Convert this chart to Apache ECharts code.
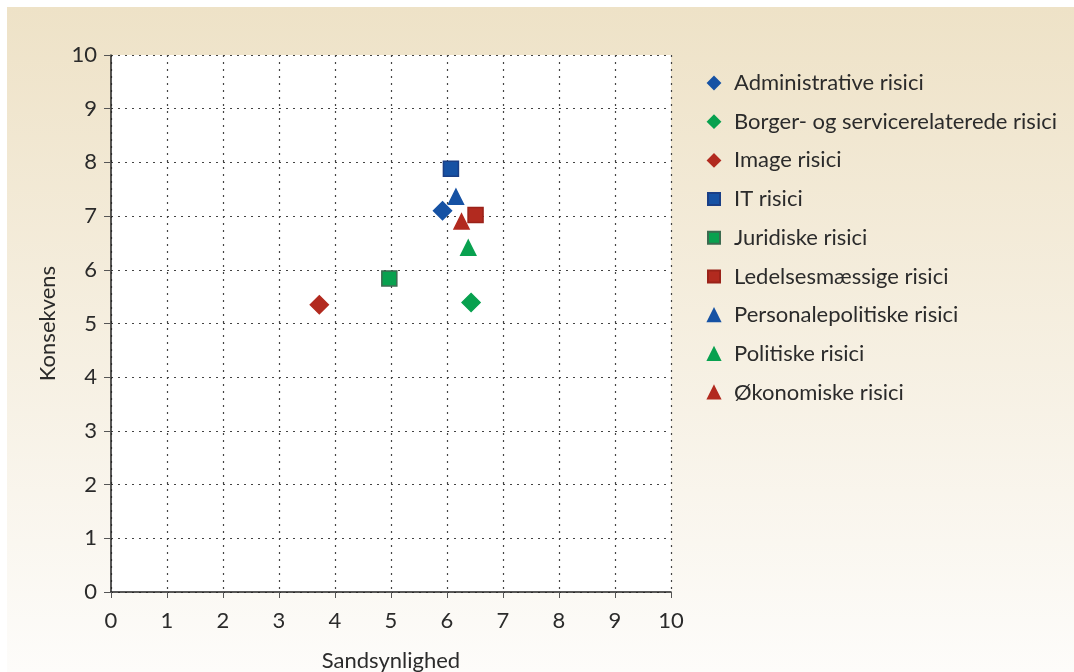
<!DOCTYPE html>
<html>
<head>
<meta charset="utf-8">
<script src="https://cdn.jsdelivr.net/npm/echarts@6/dist/echarts.min.js"></script>
<style>
  html, body { margin: 0; padding: 0; background: #fff; }
  #chart { width: 1074px; height: 672px; }
</style>
</head>
<body>
<div id="chart"></div>
<script>
// 数据
var seriesNames = [
  'Administrative risici',
  'Borger- og servicerelaterede risici',
  'Image risici',
  'IT risici',
  'Juridiske risici',
  'Ledelsesmæssige risici',
  'Personalepolitiske risici',
  'Politiske risici',
  'Økonomiske risici'
]
// [Sandsynlighed, Konsekvens]
var administrative = [[5.92, 7.1]]
var borger = [[6.43, 5.39]]
var image = [[3.72, 5.35]]
var it = [[6.07, 7.88]]
var juridiske = [[4.97, 5.84]]
var ledelse = [[6.51, 7.02]]
var personale = [[6.16, 7.36]]
var politiske = [[6.38, 6.41]]
var oekonomi = [[6.26, 6.9]]
var seriesData = [administrative, borger, image, it, juridiske, ledelse, personale, politiske, oekonomi]
var axisTicks = [0, 1, 2, 3, 4, 5, 6, 7, 8, 9, 10]

;(function () {
  var blue = '#1652a4'
  var green = '#08a14f'
  var red = '#b22a1f'
  var styles = [
    { symbol: 'diamond', size: 18, color: blue, border: blue },
    { symbol: 'diamond', size: 18, color: green, border: green },
    { symbol: 'diamond', size: 18, color: red, border: red },
    { symbol: 'rect', size: 15, color: blue, border: '#1a3f86' },
    { symbol: 'rect', size: 15, color: green, border: '#3d6a50' },
    { symbol: 'rect', size: 15, color: red, border: '#9a2219' },
    { symbol: 'triangle', size: 15, color: blue, border: blue },
    { symbol: 'triangle', size: 15, color: green, border: green },
    { symbol: 'triangle', size: 15, color: red, border: red }
  ]
  var font = 'Lato, "Open Sans", sans-serif'
  var textColor = '#2b2b2b'

  var myChart = echarts.init(document.getElementById('chart'))

  var series = seriesNames.map(function (name, i) {
    return {
      name: name,
      type: 'scatter',
      symbol: styles[i].symbol,
      symbolSize: styles[i].size,
      itemStyle: {
        color: styles[i].color,
        borderColor: styles[i].border,
        borderWidth: 1.5,
        opacity: 1
      },
      data: seriesData[i]
    }
  })

  var option = {
    backgroundColor: '#ffffff',
    animation: false,
    textStyle: { fontFamily: font },
    graphic: [
      {
        type: 'rect',
        z: -10,
        silent: true,
        shape: { x: 7, y: 7, width: 1067, height: 665 },
        style: {
          fill: {
            type: 'linear',
            x: 0, y: 0, x2: 0, y2: 1,
            colorStops: [
              { offset: 0, color: '#eee2c7' },
              { offset: 1, color: '#fdfcfa' }
            ]
          }
        }
      }
    ],
    legend: {
      orient: 'vertical',
      left: 702,
      top: 66,
      itemWidth: 12,
      itemHeight: 12,
      itemGap: 14.7,
      data: seriesNames.map(function (name, i) {
        return { name: name, icon: styles[i].symbol }
      }),
      textStyle: {
        color: textColor,
        fontSize: 22,
        fontFamily: font,
        lineHeight: 24,
        padding: [0, 0, 0, 9]
      }
    },
    grid: {
      left: 111,
      right: 403,
      top: 55,
      bottom: 80,
      outerBoundsMode: 'none',
      backgroundColor: '#ffffff',
      show: true,
      borderWidth: 0
    },
    xAxis: {
      type: 'value',
      name: 'Sandsynlighed',
      nameLocation: 'middle',
      nameGap: 58,
      nameTextStyle: { color: textColor, fontSize: 22, fontFamily: font },
      min: axisTicks[0],
      max: axisTicks[axisTicks.length - 1],
      interval: 1,
      axisLine: { show: true, lineStyle: { color: '#222', width: 1.5 } },
      axisTick: { show: true, length: 6, lineStyle: { color: '#555' } },
      axisLabel: { color: textColor, fontSize: 22, margin: 18, fontFamily: font },
      splitLine: { show: true, lineStyle: { type: [2, 5], color: '#444', width: 1.2 } }
    },
    yAxis: {
      type: 'value',
      name: 'Konsekvens',
      nameLocation: 'middle',
      nameGap: 52,
      nameTextStyle: { color: textColor, fontSize: 22, fontFamily: font },
      min: axisTicks[0],
      max: axisTicks[axisTicks.length - 1],
      interval: 1,
      axisLine: { show: true, lineStyle: { color: '#222', width: 1.5 } },
      axisTick: { show: true, length: 7, lineStyle: { color: '#555' } },
      axisLabel: { color: textColor, fontSize: 22, margin: 14, fontFamily: font },
      splitLine: { show: true, lineStyle: { type: [2, 5], color: '#444', width: 1.2 } }
    },
    series: series
  }
  myChart.setOption(option)
})()
</script>
</body>
</html>
